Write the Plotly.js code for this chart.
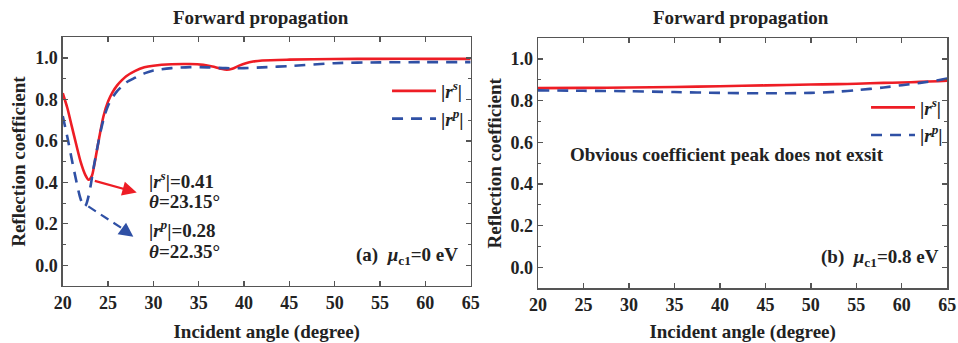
<!DOCTYPE html>
<html>
<head>
<meta charset="utf-8">
<script src="https://cdn.plot.ly/plotly-3.0.1.min.js"></script>
<style>html,body{margin:0;padding:0;background:#fff;}#chart{width:958px;height:343px;}</style>
</head>
<body>
<div id="chart"></div>
<script>
// Panel (a): mu_c1 = 0 eV
const angleA_s = [20, 20.5, 21, 21.5, 22, 22.5, 22.85, 23.2, 23.5, 24, 24.5, 25, 25.5, 26, 26.5, 27, 28, 29, 30, 32, 34, 35.5, 36.5, 37.3, 38.1, 38.7, 39.4, 40.2, 41, 42, 45, 50, 55, 60, 65];
const rsA = [0.83, 0.76, 0.67, 0.58, 0.495, 0.435, 0.413, 0.43, 0.49, 0.61, 0.72, 0.79, 0.835, 0.868, 0.892, 0.912, 0.938, 0.955, 0.963, 0.97, 0.971, 0.967, 0.959, 0.95, 0.943, 0.948, 0.962, 0.975, 0.983, 0.988, 0.992, 0.995, 0.996, 0.996, 0.996];
const angleA_p = [20, 20.5, 21, 21.5, 21.9, 22.2, 22.35, 22.55, 22.8, 23.1, 23.4, 23.8, 24.2, 24.6, 25, 25.5, 26, 26.5, 27, 28, 29, 30, 32, 34, 36, 38, 40, 42, 45, 50, 55, 60, 65];
const rpA = [0.72, 0.62, 0.51, 0.405, 0.33, 0.292, 0.282, 0.29, 0.325, 0.39, 0.47, 0.565, 0.65, 0.72, 0.77, 0.81, 0.84, 0.862, 0.882, 0.905, 0.926, 0.94, 0.951, 0.956, 0.955, 0.951, 0.951, 0.955, 0.961, 0.975, 0.979, 0.98, 0.98];
// Panel (b): mu_c1 = 0.8 eV
const angleB = [20, 25, 30, 35, 40, 45, 50, 53, 55, 58, 60, 62, 64, 65];
const rsB = [0.861, 0.862, 0.864, 0.866, 0.87, 0.874, 0.878, 0.88, 0.882, 0.886, 0.888, 0.891, 0.894, 0.896];
const rpB = [0.85, 0.848, 0.846, 0.842, 0.838, 0.836, 0.838, 0.844, 0.851, 0.864, 0.875, 0.886, 0.899, 0.907];

const seriesNames = ['|<i>r</i><sup><i>s</i></sup>|', '|<i>r</i><sup><i>p</i></sup>|'];
const xTitle = 'Incident angle (degree)';
const yTitle = 'Reflection coefficient';
const panelTitle = 'Forward propagation';

const FONT = 'Liberation Serif, Times New Roman, serif';
const RED = '#ee1d25';
const BLUE = '#2f50a5';
const AX = '#555555';

const traces = [
  {x: angleA_s, y: rsA, xaxis: 'x', yaxis: 'y', mode: 'lines', name: seriesNames[0], legend: 'legend',
   line: {color: RED, width: 2.6, shape: 'spline', smoothing: 0.8}},
  {x: angleA_p, y: rpA, xaxis: 'x', yaxis: 'y', mode: 'lines', name: seriesNames[1], legend: 'legend',
   line: {color: BLUE, width: 2.6, dash: '11px,8px', shape: 'spline', smoothing: 0.8}},
  {x: angleB, y: rsB, xaxis: 'x2', yaxis: 'y2', mode: 'lines', name: seriesNames[0], legend: 'legend2',
   line: {color: RED, width: 2.6, shape: 'spline', smoothing: 0.8}},
  {x: angleB, y: rpB, xaxis: 'x2', yaxis: 'y2', mode: 'lines', name: seriesNames[1], legend: 'legend2',
   line: {color: BLUE, width: 2.6, dash: '11px,8px', shape: 'spline', smoothing: 0.8}}
];

const tickFont = {family: FONT, size: 18, color: '#222', weight: 'bold'};
const titleFont = {family: FONT, size: 19, color: '#222', weight: 'bold'};

function xax(domain, anchor) {
  return {domain: domain, anchor: anchor, range: [20, 65], tick0: 20, dtick: 5,
    ticks: 'inside', ticklen: 5, tickwidth: 1.3, tickcolor: AX,
    showline: true, linecolor: AX, linewidth: 1.5, mirror: 'ticks',
    showgrid: false, zeroline: false, tickfont: tickFont,
    title: {text: xTitle, font: titleFont, standoff: 13}};
}
function yax(domain, anchor) {
  return {domain: domain, anchor: anchor, range: [-0.1, 1.1], tick0: 0, dtick: 0.2, tickformat: '.1f',
    ticks: 'inside', ticklen: 5, tickwidth: 1.3, tickcolor: AX,
    minor: {dtick: 0.1, ticks: 'inside', ticklen: 3, tickcolor: AX, tickwidth: 1},
    showline: true, linecolor: AX, linewidth: 1.5, mirror: 'ticks',
    showgrid: false, zeroline: false, tickfont: tickFont,
    title: {text: yTitle, font: titleFont, standoff: 4}};
}

const annFont = {family: FONT, size: 19, color: '#222', weight: 'bold'};
const annotations = [
  {xref: 'paper', yref: 'paper', x: 0.2728, y: 1 - 17/343, xanchor: 'center', yanchor: 'middle', showarrow: false, text: panelTitle, font: titleFont},
  {xref: 'paper', yref: 'paper', x: 0.7733, y: 1 - 17/343, xanchor: 'center', yanchor: 'middle', showarrow: false, text: panelTitle, font: titleFont},
  // panel (a) notes
  {xref: 'x', yref: 'y', x: 29.3, y: 0.412, xanchor: 'left', yanchor: 'middle', showarrow: false, text: '|<i>r</i><sup><i>s</i></sup>|=0.41', font: annFont},
  {xref: 'x', yref: 'y', x: 29.3, y: 0.308, xanchor: 'left', yanchor: 'middle', showarrow: false, text: '<i>θ</i>=23.15°', font: annFont},
  {xref: 'x', yref: 'y', x: 29.3, y: 0.176, xanchor: 'left', yanchor: 'middle', showarrow: false, text: '|<i>r</i><sup><i>p</i></sup>|=0.28', font: annFont},
  {xref: 'x', yref: 'y', x: 29.3, y: 0.067, xanchor: 'left', yanchor: 'middle', showarrow: false, text: '<i>θ</i>=22.35°', font: annFont},
  // red arrow
  {xref: 'x', yref: 'y', axref: 'x', ayref: 'y', x: 28.16, y: 0.351, ax: 23.37, ay: 0.409, text: '', showarrow: true,
   arrowhead: 2, arrowsize: 1.3, arrowwidth: 2.2, arrowcolor: RED},
  // blue arrow head (line drawn dashed as shape)
  {xref: 'x', yref: 'y', axref: 'x', ayref: 'y', x: 27.79, y: 0.137, ax: 26.6, ay: 0.175, text: '', showarrow: true,
   arrowhead: 2, arrowsize: 1.3, arrowwidth: 2.2, arrowcolor: BLUE},
  {xref: 'x', yref: 'y', x: 63.82, y: 0.047, xanchor: 'right', yanchor: 'middle', showarrow: false, text: '(a)\u00a0\u00a0<i>μ</i><sub>c1</sub>=0 eV', font: annFont},
  // panel (b) notes
  {xref: 'x2', yref: 'y2', x: 40.81, y: 0.541, xanchor: 'center', yanchor: 'middle', showarrow: false, text: 'Obvious coefficient peak does not exsit', font: annFont},
  {xref: 'x2', yref: 'y2', x: 64.27, y: 0.047, xanchor: 'right', yanchor: 'middle', showarrow: false, text: '(b)\u00a0\u00a0<i>μ</i><sub>c1</sub>=0.8 eV', font: annFont}
];

const shapes = [
  {type: 'line', xref: 'x', yref: 'y', x0: 22.82, y0: 0.284, x1: 27.0, y1: 0.165,
   line: {color: BLUE, width: 2.2, dash: '9px,6px'}}
];

const legFont = {family: FONT, size: 19, color: '#222', weight: 'bold'};
const layout = {
  width: 958, height: 343,
  margin: {l: 0, r: 0, t: 0, b: 0},
  paper_bgcolor: '#fff', plot_bgcolor: '#fff',
  xaxis: xax([0.0655, 0.4913], 'y'),
  yaxis: yax([0.1662, 0.8913], 'x'),
  xaxis2: xax([0.5616, 0.9888], 'y2'),
  yaxis2: yax([0.1595, 0.8883], 'x2'),
  legend: {x: 0.404, y: 0.79, xanchor: 'left', yanchor: 'top', bgcolor: 'rgba(0,0,0,0)', font: legFont, itemwidth: 44, tracegroupgap: 0},
  legend2: {x: 0.904, y: 0.742, xanchor: 'left', yanchor: 'top', bgcolor: 'rgba(0,0,0,0)', font: legFont, itemwidth: 44, tracegroupgap: 0},
  annotations: annotations,
  shapes: shapes,
  showlegend: true
};

Plotly.newPlot('chart', traces, layout, {displayModeBar: false, staticPlot: true});
</script>
</body>
</html>
